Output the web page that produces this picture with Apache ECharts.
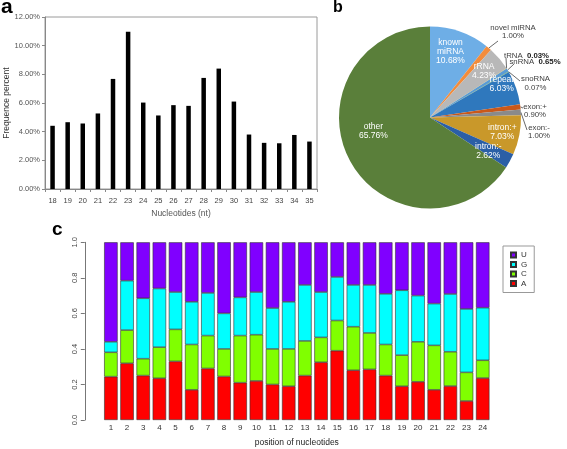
<!DOCTYPE html>
<html><head><meta charset="utf-8">
<script src="https://cdn.jsdelivr.net/npm/echarts@6/dist/echarts.min.js"></script>
<style>html,body{margin:0;padding:0;background:#fff}#c{width:567px;height:449px}</style>
</head><body><div id="c"></div>
<script>
// Panel a: length distribution
const lenCategories = ['18','19','20','21','22','23','24','25','26','27','28','29','30','31','32','33','34','35'];
const lenPercent = [4.41, 4.66, 4.57, 5.27, 7.68, 10.97, 6.03, 5.13, 5.85, 5.80, 7.75, 8.40, 6.10, 3.80, 3.22, 3.19, 3.77, 3.31];
const lenTicks = [0, 2, 4, 6, 8, 10, 12];

// Panel b: annotation pie
const pieNames = ['known\nmiRNA','novel miRNA','rRNA','tRNA','snRNA','snoRNA','repeat','exon:+','exon:-','intron:+','intron:-','other'];
const pieValues = [10.68, 1.00, 4.23, 0.03, 0.65, 0.07, 6.03, 0.90, 1.00, 7.03, 2.62, 65.76];
const pieColors = ['#6eaee6','#f28c3c','#b8b8b8','#ffc000','#5b9bd5','#70ad47','#2f78bd','#c9581a','#8a8a8a','#c9982a','#2b5fa6','#5a7f3a'];
const pieOutside = ['novel miRNA','tRNA','snRNA','snoRNA','exon:+','exon:-'];
const pieBoldPct = ['tRNA','snRNA'];

// Panel c: nucleotide composition per position
const positions = ['1','2','3','4','5','6','7','8','9','10','11','12','13','14','15','16','17','18','19','20','21','22','23','24'];
const fracA = [0.244,0.319,0.250,0.235,0.330,0.170,0.290,0.245,0.210,0.220,0.200,0.190,0.250,0.325,0.390,0.280,0.285,0.250,0.190,0.215,0.170,0.191,0.107,0.236];
const fracC = [0.137,0.187,0.095,0.175,0.180,0.255,0.185,0.155,0.265,0.260,0.200,0.210,0.195,0.140,0.170,0.245,0.205,0.175,0.175,0.225,0.250,0.193,0.161,0.100];
const fracG = [0.059,0.278,0.340,0.330,0.210,0.240,0.240,0.200,0.215,0.240,0.230,0.265,0.315,0.255,0.245,0.235,0.270,0.285,0.365,0.260,0.235,0.325,0.357,0.296];
const fracU = [0.560,0.216,0.315,0.260,0.280,0.335,0.285,0.400,0.310,0.280,0.370,0.335,0.240,0.280,0.195,0.240,0.240,0.290,0.270,0.300,0.345,0.291,0.375,0.368];
const fracTicks = [0, 0.2, 0.4, 0.6, 0.8, 1.0];

const FONT = 'Liberation Sans';
const PIE_C = [430, 117.5];
const PIE_R = 91;

// label placement (layout only): inside labels [radius fraction, angle shift deg]
const insideAdjust = {'other': [0.64, 15], 'repeat': [0.87, -6], 'known\nmiRNA': [0.76, -2], 'intron:-': [0.74, 1.5], 'intron:+': [0.81, 0]};
// outside labels: [label centre x, y, leader attach x, y]
const outsideLayout = {
  'novel miRNA': [513, 32, 498, 41],
  'tRNA':        [526.5, 55.5, 506, 58],
  'snRNA':       [535, 62, 514, 64],
  'snoRNA':      [535.5, 83.5, 520, 81],
  'exon:+':      [535, 111, 523, 108],
  'exon:-':      [539, 132, 527, 130]
};

const chart = echarts.init(document.getElementById('c'), null, {renderer: 'canvas'});

const OFS = 7.8;
const pieData = pieNames.map((n, i) => {
  const out = pieOutside.indexOf(n) >= 0;
  const pct = pieValues[i].toFixed(2) + '%';
  let fmt;
  if (pieBoldPct.indexOf(n) >= 0) fmt = '{t|' + n + '}  {b|' + pct + '}';
  else if (out) fmt = '{t|' + n + '}\n{t|' + pct + '}';
  else fmt = n + '\n' + pct;
  return {
    name: n, value: pieValues[i],
    itemStyle: {color: pieColors[i]},
    label: out ? {
      position: 'outside', formatter: fmt, color: '#404040', fontSize: OFS, lineHeight: 8.5,
      align: 'center', overflow: 'none', width: 80,
      rich: {t: {fontSize: OFS, color: '#404040', fontFamily: FONT, lineHeight: 8.5, align: 'center'},
             b: {fontSize: OFS, color: '#202020', fontWeight: 'bold', fontFamily: FONT, lineHeight: 8.5}}
    } : {
      position: 'inside', formatter: fmt, color: '#ffffff', fontSize: 8.5, lineHeight: 9
    },
    labelLine: out ? {show: true} : {show: false}
  };
});

const stackNames = ['A','C','G','U'];
const stackData = [fracA, fracC, fracG, fracU];
const stackColors = ['#FF0000','#80FF00','#00FFFF','#8000FF'];

const option = {
  animation: false,
  textStyle: {fontFamily: FONT},
  graphic: [
    {type: 'text', left: 1, top: -3, style: {text: 'a', font: 'bold 21px ' + FONT, fill: '#000'}},
    {type: 'text', left: 333, top: 0, style: {text: 'b', font: 'bold 16px ' + FONT, fill: '#000'}},
    {type: 'text', left: 52, top: 220, style: {text: 'c', font: 'bold 19px ' + FONT, fill: '#000'}}
  ],
  legend: {
    data: ['U','G','C','A'], orient: 'vertical', left: 503, top: 246,
    itemWidth: 5, itemHeight: 5, itemGap: 1.5, padding: [5, 7, 5, 7],
    borderColor: '#999', borderWidth: 1, icon: 'rect',
    textStyle: {fontSize: 8, color: '#333', fontFamily: FONT}, selectedMode: false
  },
  grid: [
    {left: 45, top: 17, width: 272, height: 172, show: true, borderColor: '#9a9a9a', borderWidth: 1},
    {left: 102.8, top: 242.3, width: 388, height: 177.7}
  ],
  xAxis: [
    {type: 'category', gridIndex: 0, data: lenCategories,
     axisLine: {lineStyle: {color: '#888'}},
     axisTick: {show: true, length: 3, lineStyle: {color: '#888'}},
     axisLabel: {fontSize: 7.5, color: '#444', margin: 8, interval: 0},
     name: 'Nucleotides (nt)', nameLocation: 'middle', nameGap: 20,
     nameTextStyle: {fontSize: 8.5, color: '#555'}},
    {type: 'category', gridIndex: 1, data: positions,
     axisLine: {show: false}, axisTick: {show: false},
     axisLabel: {fontSize: 8, color: '#333', margin: 4, interval: 0},
     name: 'position of nucleotides', nameLocation: 'middle', nameGap: 18,
     nameTextStyle: {fontSize: 8.5, color: '#222'}}
  ],
  yAxis: [
    {type: 'value', gridIndex: 0, min: lenTicks[0], max: lenTicks[lenTicks.length - 1], interval: 2,
     axisLine: {show: true, lineStyle: {color: '#888'}},
     axisTick: {show: true, length: 3, lineStyle: {color: '#888'}},
     splitLine: {show: false},
     axisLabel: {fontSize: 7.5, color: '#555', margin: 5, formatter: v => v.toFixed(2) + '%'},
     name: 'Frequence percent', nameLocation: 'middle', nameGap: 34, nameRotate: 90,
     nameTextStyle: {fontSize: 8.5, color: '#333'}},
    {type: 'value', gridIndex: 1, min: fracTicks[0], max: fracTicks[fracTicks.length - 1], interval: 0.2,
     offset: 18,
     axisLine: {show: true, lineStyle: {color: '#777'}},
     axisTick: {show: true, length: 4, lineStyle: {color: '#777'}},
     splitLine: {show: false},
     axisLabel: {fontSize: 7.5, color: '#444', margin: 6, rotate: 90, formatter: v => v.toFixed(1)}}
  ],
  series: [
    {type: 'bar', xAxisIndex: 0, yAxisIndex: 0, data: lenPercent, barWidth: 4.5,
     itemStyle: {color: '#000'}, silent: true},
    ...stackNames.map((n, k) => ({
      name: n, type: 'bar', xAxisIndex: 1, yAxisIndex: 1, stack: 'nt', data: stackData[k],
      barCategoryGap: '16.7%',
      itemStyle: {color: stackColors[k], borderColor: '#333', borderWidth: 0.6}, silent: true
    })),
    {type: 'pie', center: PIE_C, radius: PIE_R, startAngle: 90, clockwise: true,
     data: pieData, silent: true, avoidLabelOverlap: false,
     labelLine: {length: 6, length2: 6, lineStyle: {color: '#444', width: 0.8}},
     label: {fontFamily: FONT},
     labelLayout: function (p) {
       const n = pieNames[p.dataIndex];
       const o = outsideLayout[n];
       if (o) {
         const lp = p.labelLinePoints;
         const edge = lp && lp[0] ? lp[0] : [o[2], o[3]];
         return {x: o[0], y: o[1], align: 'center', verticalAlign: 'middle',
                 labelLinePoints: [edge, [o[2], o[3]], [o[2], o[3]]]};
       }
       const adj = insideAdjust[n] || [0.78, 0];
       const r = p.labelRect;
       const cx = r.x + r.width / 2, cy = r.y + r.height / 2;
       let ang = Math.atan2(cx - PIE_C[0], -(cy - PIE_C[1])) + adj[1] * Math.PI / 180;
       const target = PIE_R * adj[0];
       return {x: PIE_C[0] + Math.sin(ang) * target, y: PIE_C[1] - Math.cos(ang) * target,
               align: 'center', verticalAlign: 'middle'};
     }}
  ]
};
chart.setOption(option);
</script>
</body></html>
